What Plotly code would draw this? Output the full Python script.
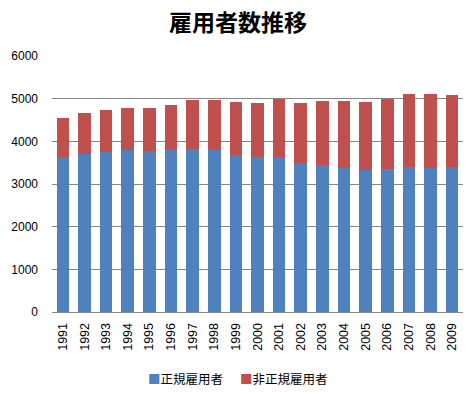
import plotly.graph_objects as go

years = [str(y) for y in range(1991, 2010)]
regular = [3628, 3706, 3753, 3800, 3769, 3800, 3815, 3800, 3675, 3628,
           3628, 3487, 3440, 3378, 3330, 3346, 3393, 3378, 3393]
nonregular = [916, 956, 980, 980, 1011, 1050, 1152, 1167, 1245, 1272,
              1362, 1413, 1505, 1567, 1590, 1644, 1715, 1730, 1692]
y_ticks = [0, 1000, 2000, 3000, 4000, 5000, 6000]
series_names = ["正規雇用者", "非正規雇用者"]
colors = ["#4F81BD", "#C0504D"]

W, H = 476, 394
ML, MR, MT, MB = 52, 13, 56, 82
plot_w, plot_h = W - ML - MR, H - MT - MB

fig = go.Figure()
fig.add_trace(go.Bar(x=years, y=regular, name=series_names[0], marker_color=colors[0],
                     marker_line_width=0, showlegend=False))
fig.add_trace(go.Bar(x=years, y=nonregular, name=series_names[1], marker_color=colors[1],
                     marker_line_width=0, showlegend=False))

# legend drawn as text: small coloured squares followed by series names
legend_px = [146, 238]
legend_py = 378
for name, col, lx in zip(series_names, colors, legend_px):
    fig.add_annotation(x=(lx - ML) / plot_w, y=(H - MB - legend_py) / plot_h,
                       xref="paper", yref="paper",
                       xanchor="left", yanchor="middle", showarrow=False,
                       text=f"<span style='color:{col}'>■</span>{name}",
                       font=dict(family="Noto Sans CJK JP", size=12.5, color="black"))

fig.update_layout(
    width=W, height=H,
    barmode="stack", bargap=0.42,
    paper_bgcolor="white", plot_bgcolor="white",
    margin=dict(l=ML, r=MR, t=MT, b=MB, autoexpand=False),
    title=dict(text="<b>雇用者数推移</b>", x=0.5, xanchor="center", y=(H - 23) / H,
               yanchor="middle", yref="container",
               font=dict(family="Noto Sans CJK JP", size=23, color="black")),
    font=dict(family="Liberation Sans, Arial", size=12, color="black"),
    showlegend=False,
)
fig.update_xaxes(type="category", tickangle=-90, showgrid=False, showline=True,
                 linecolor="#868686", linewidth=1, ticks="", tickfont=dict(size=12.5),
                 ticklabelstandoff=5, automargin=False)
fig.update_yaxes(range=[0, 6000], tickvals=y_ticks, showgrid=True, gridcolor="#868686",
                 gridwidth=1, zeroline=False, showline=False, ticks="",
                 ticklabelstandoff=13, tickfont=dict(size=12), automargin=False)

fig.write_html("out.html", config={"displayModeBar": False},
               post_script="document.body.style.margin='0';")
